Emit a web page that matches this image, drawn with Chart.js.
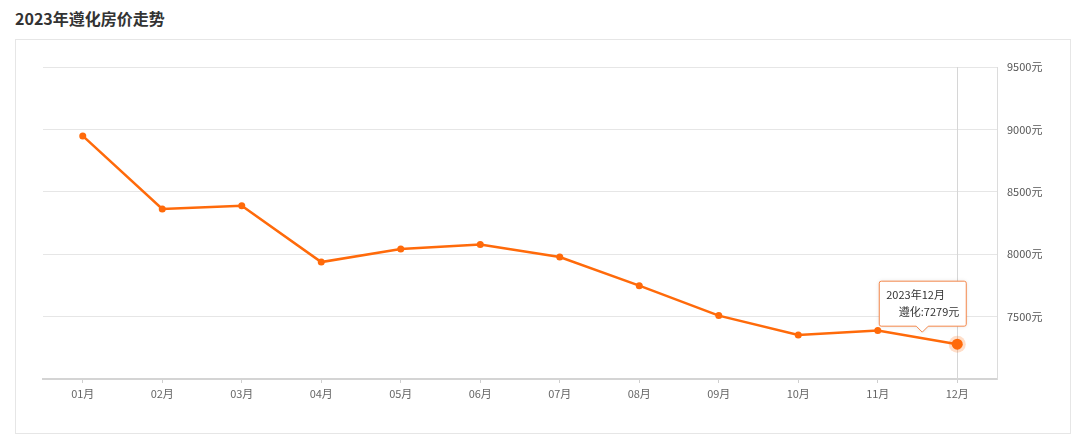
<!DOCTYPE html>
<html>
<head>
<meta charset="utf-8">
<script src="https://cdn.jsdelivr.net/npm/chart.js@4"></script>
<style>
  html, body { margin: 0; padding: 0; background: #fff; width: 1080px; height: 444px; overflow: hidden; }
  body { position: relative; font-family: "Noto Sans CJK SC", "Noto Sans", sans-serif; }
  #title { position: absolute; left: 15px; top: 7px; font-size: 16px; font-weight: bold; color: #333; line-height: 22px; }
  #box { position: absolute; left: 15px; top: 39px; width: 1054px; height: 393px; border: 1px solid #e6e6e6; }
  #c { position: absolute; left: 0; top: 0; }
</style>
</head>
<body>
<div id="title">2023年遵化房价走势</div>
<div id="box"></div>
<canvas id="c" width="1080" height="444"></canvas>
<script>
const categories = ['01月', '02月', '03月', '04月', '05月', '06月', '07月', '08月', '09月', '10月', '11月', '12月'];
const seriesName = '遵化';
const prices = [8948, 8362, 8389, 7937, 8042, 8078, 7977, 7748, 7508, 7353, 7388, 7279];
const yTickValues = [7000, 7500, 8000, 8500, 9000, 9500];
const yTickLabels = ['', '7500元', '8000元', '8500元', '9000元', '9500元'];
const tooltipTitle = '2023年12月';
const activeIndex = 11;

const FONT = '"Noto Sans CJK SC", "Noto Sans", sans-serif';
const ORANGE = '#ff6a0a';

const tipPlugin = {
  id: 'tipPlugin',
  afterDatasetsDraw(chart) {
    const ctx = chart.ctx;
    const pt = chart.getDatasetMeta(0).data[activeIndex];
    const area = chart.chartArea;
    const px = pt.x, py = pt.y;
    ctx.save();
    // crosshair
    ctx.strokeStyle = '#d6d6d6';
    ctx.lineWidth = 1;
    ctx.beginPath();
    ctx.moveTo(Math.round(px) + 0.5, area.top);
    ctx.lineTo(Math.round(px) + 0.5, area.bottom);
    ctx.stroke();
    // halo + active point
    ctx.fillStyle = 'rgba(255,106,10,0.22)';
    ctx.beginPath(); ctx.arc(px, py, 8.5, 0, Math.PI * 2); ctx.fill();
    ctx.fillStyle = ORANGE;
    ctx.beginPath(); ctx.arc(px, py, 5.5, 0, Math.PI * 2); ctx.fill();
    // tooltip box
    const left = px - 78, right = px + 9, top = py - 63, bottom = py - 18;
    const cx = px - 35, tipY = py - 12;
    ctx.shadowColor = 'rgba(0,0,0,0.12)';
    ctx.shadowBlur = 4;
    ctx.fillStyle = '#fff';
    ctx.strokeStyle = '#f4874a';
    ctx.lineWidth = 1;
    const r = 2;
    ctx.beginPath();
    ctx.moveTo(left + r, top);
    ctx.lineTo(right - r, top);
    ctx.quadraticCurveTo(right, top, right, top + r);
    ctx.lineTo(right, bottom - r);
    ctx.quadraticCurveTo(right, bottom, right - r, bottom);
    ctx.lineTo(cx + 6, bottom);
    ctx.lineTo(cx, tipY);
    ctx.lineTo(cx - 6, bottom);
    ctx.lineTo(left + r, bottom);
    ctx.quadraticCurveTo(left, bottom, left, bottom - r);
    ctx.lineTo(left, top + r);
    ctx.quadraticCurveTo(left, top, left + r, top);
    ctx.closePath();
    ctx.fill();
    ctx.shadowBlur = 0;
    ctx.shadowColor = 'transparent';
    ctx.stroke();
    ctx.fillStyle = '#333';
    ctx.font = '11px ' + FONT;
    ctx.textBaseline = 'middle';
    ctx.textAlign = 'left';
    ctx.fillText(tooltipTitle, left + 7, top + 14);
    ctx.textAlign = 'right';
    ctx.fillText(seriesName + ':' + prices[activeIndex] + '元', right - 7, top + 31);
    ctx.restore();
  }
};

new Chart(document.getElementById('c'), {
  type: 'line',
  data: {
    labels: categories,
    datasets: [{
      label: seriesName,
      data: prices,
      borderColor: ORANGE,
      backgroundColor: ORANGE,
      borderWidth: 2.5,
      pointRadius: 3.5,
      pointBackgroundColor: ORANGE,
      pointBorderWidth: 0,
      tension: 0,
      fill: false
    }]
  },
  options: {
    responsive: false,
    animation: false,
    events: [],
    layout: { padding: { left: 43, top: 67, right: 0, bottom: 0 } },
    plugins: { legend: { display: false }, tooltip: { enabled: false } },
    scales: {
      x: {
        offset: true,
        afterFit(s) { s.height = 65; },
        grid: { offset: false, drawOnChartArea: false, drawTicks: true, tickLength: 4, tickColor: '#cfcfcf' },
        border: { color: '#d4d4d4', width: 2 },
        ticks: { color: '#666', font: { size: 11, family: FONT }, padding: 4, maxRotation: 0 }
      },
      y: {
        position: 'right',
        min: 7000,
        max: 9500,
        afterFit(s) { s.width = 83; },
        afterBuildTicks(s) { s.ticks = yTickValues.map(v => ({ value: v })); },
        grid: { color: '#e6e6e6', drawTicks: false },
        border: { color: '#dcdcdc', width: 1 },
        ticks: {
          color: '#555',
          font: { size: 11, family: FONT },
          padding: 10,
          callback(v) { const i = yTickValues.indexOf(v); return i >= 0 ? yTickLabels[i] : ''; }
        }
      }
    }
  },
  plugins: [tipPlugin]
});
</script>
</body>
</html>
